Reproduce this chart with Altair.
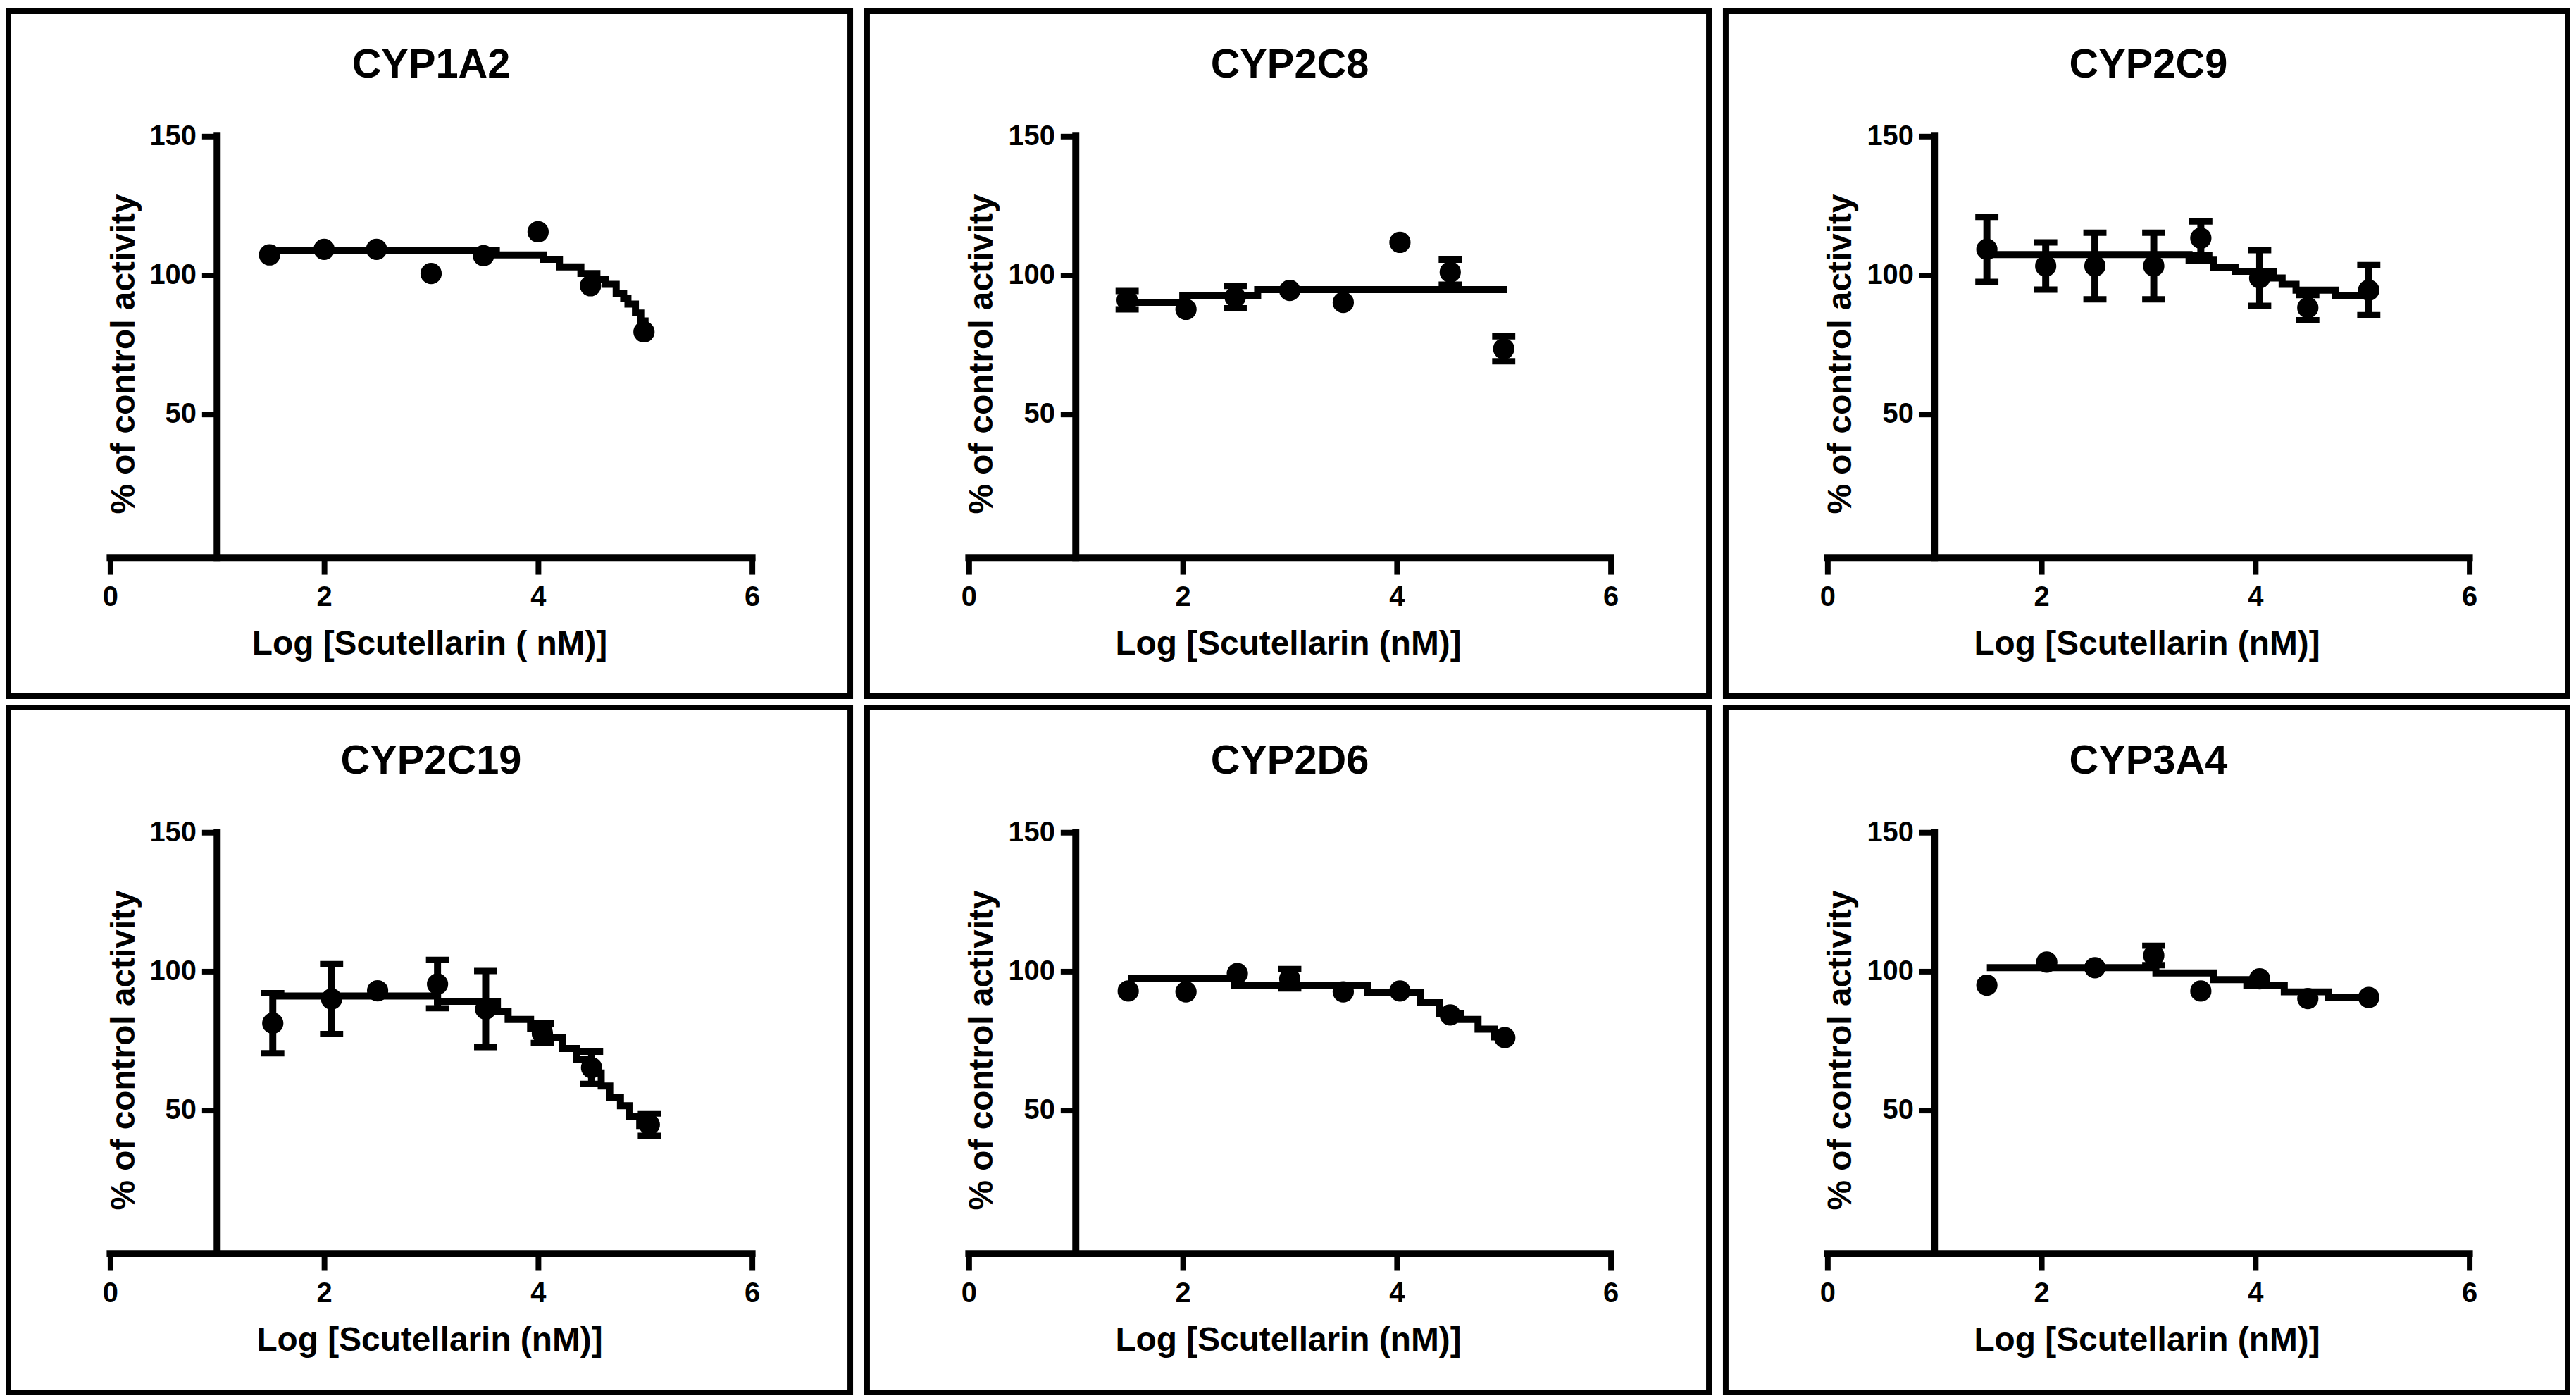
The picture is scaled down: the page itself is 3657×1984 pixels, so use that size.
import altair as alt
import pandas as pd

# ---------------- data ----------------
names = ["CYP1A2", "CYP2C8", "CYP2C9", "CYP2C19", "CYP2D6", "CYP3A4"]
x_titles = ["Log [Scutellarin ( nM)]", "Log [Scutellarin (nM)]", "Log [Scutellarin (nM)]",
            "Log [Scutellarin (nM)]", "Log [Scutellarin (nM)]", "Log [Scutellarin (nM)]"]
y_title = "% of control activity"

cyp1a2_x = [1.49, 2.0, 2.49, 3.0, 3.49, 4.0, 4.49, 4.99]
cyp1a2_y = [107.3, 109.3, 109.3, 100.6, 107.0, 115.6, 96.2, 79.6]
cyp1a2_err = [0, 0, 0, 0, 0, 0, 0, 0]
cyp1a2_fit_x = [1.5, 3.61, 4.05, 4.2, 4.4, 4.55, 4.63, 4.73, 4.8, 4.84, 4.91, 4.96, 5.0]
cyp1a2_fit_y = [108.8, 107.3, 105.7, 103.0, 100.6, 98.5, 96.7, 93.5, 91.5, 89.6, 86.4, 83.5, 81.7]

cyp2c8_x = [1.48, 2.03, 2.49, 3.0, 3.5, 4.03, 4.5, 5.0]
cyp2c8_y = [91.0, 87.7, 92.1, 94.5, 90.2, 111.8, 101.1, 73.5]
cyp2c8_err = [3.3, 0, 4.0, 0, 0, 0, 4.5, 4.5]
cyp2c8_fit_x = [1.48, 2.0, 2.7, 5.03]
cyp2c8_fit_y = [90.2, 92.6, 94.8, 94.8]

cyp2c9_x = [1.49, 2.04, 2.5, 3.05, 3.49, 4.04, 4.49, 5.06]
cyp2c9_y = [109.3, 103.3, 103.3, 103.3, 113.3, 99.0, 88.3, 94.6]
cyp2c9_err = [11.7, 8.5, 12.0, 12.0, 6.0, 10.0, 4.5, 9.0]
cyp2c9_fit_x = [1.5, 3.38, 3.61, 3.81, 4.17, 4.25, 4.38, 4.75, 5.04]
cyp2c9_fit_y = [107.4, 105.4, 102.7, 101.4, 99.0, 96.7, 94.6, 92.7, 92.7]

cyp2c19_x = [1.52, 2.07, 2.5, 3.06, 3.51, 4.04, 4.5, 5.04]
cyp2c19_y = [81.3, 90.0, 93.0, 95.4, 86.4, 77.7, 65.3, 44.8]
cyp2c19_err = [10.8, 12.6, 0, 8.7, 13.7, 3.5, 5.8, 4.0]
cyp2c19_fit_x = [1.5, 3.06, 3.62, 3.72, 3.93, 4.1, 4.23, 4.36, 4.49, 4.59, 4.67, 4.77, 4.85, 4.95, 5.05]
cyp2c19_fit_y = [91.1, 89.2, 85.6, 82.7, 79.3, 76.1, 72.2, 68.2, 63.4, 58.7, 54.7, 51.6, 47.6, 44.5, 44.5]

cyp2d6_x = [1.49, 2.03, 2.51, 3.0, 3.5, 4.03, 4.5, 5.01]
cyp2d6_y = [92.9, 92.6, 99.2, 97.3, 92.6, 92.9, 84.3, 76.1]
cyp2d6_err = [0, 0, 0, 3.5, 0, 0, 0, 0]
cyp2d6_fit_x = [1.49, 2.48, 3.73, 4.22, 4.4, 4.6, 4.76, 4.91, 5.01]
cyp2d6_fit_y = [97.3, 95.0, 92.3, 88.7, 84.7, 82.7, 79.2, 76.4, 76.4]

cyp3a4_x = [1.49, 2.05, 2.5, 3.05, 3.49, 4.04, 4.49, 5.06]
cyp3a4_y = [95.0, 103.3, 101.3, 105.7, 92.9, 97.3, 90.2, 90.6]
cyp3a4_err = [0, 0, 0, 3.5, 0, 0, 0, 0]
cyp3a4_fit_x = [1.49, 3.07, 3.61, 3.92, 4.27, 4.68, 5.07]
cyp3a4_fit_y = [101.3, 99.4, 97.0, 95.0, 92.6, 90.6, 90.6]

x_ticks = [0, 2, 4, 6]
y_ticks = [50, 100, 150]
x_axis_at = -1.6      # the x-axis line sits just under y = 0
y_axis_at = 1         # the y-axis line crosses at x = 1

# ---------------- layout / style ----------------
W, H = 1200, 976
X0_REL, X6_REL = 145, 1060      # pixel of x=0 and x=6 from panel left
Y0_REL, Y150_REL = 772, 178     # pixel of y=0 and y=150 from panel top
PX_X = (X6_REL - X0_REL) / 6.0
PX_Y = (Y0_REL - Y150_REL) / 150.0
X_DOMAIN = [-X0_REL / PX_X, (W - X0_REL) / PX_X]
Y_DOMAIN = [-(H - Y0_REL) / PX_Y, Y0_REL / PX_Y]
FONT = "Liberation Sans"
LW = 10


def x_enc(field, title):
    return alt.X(field, type="quantitative",
                 scale=alt.Scale(domain=X_DOMAIN, nice=False, zero=False),
                 axis=alt.Axis(values=x_ticks, format="d", domain=False, grid=False,
                               ticks=True, tickSize=24, tickWidth=8, tickColor="black",
                               labelFont=FONT, labelFontWeight="bold", labelFontSize=40,
                               labelColor="black", labelPadding=13, labelFlush=False,
                               title=title, titleFont=FONT, titleFontWeight="bold",
                               titleFontSize=48, titleColor="black", titlePadding=23,
                               offset=-(H - Y0_REL + x_axis_at * PX_Y)))


def y_enc(field):
    return alt.Y(field, type="quantitative",
                 scale=alt.Scale(domain=Y_DOMAIN, nice=False, zero=False),
                 axis=alt.Axis(values=y_ticks, format="d", domain=False, grid=False,
                               ticks=True, tickSize=22, tickWidth=8, tickColor="black",
                               labelFont=FONT, labelFontWeight="bold", labelFontSize=40,
                               labelColor="black", labelPadding=8, labelFlush=False,
                               title=y_title, titleFont=FONT, titleFontWeight="bold",
                               titleFontSize=48, titleColor="black", titlePadding=12,
                               offset=-(X0_REL + y_axis_at * PX_X)))


def panel(name, xt, xs, ys, errs, fx, fy):
    pts = pd.DataFrame({"x": xs, "y": ys, "err": errs})
    pts["lo"] = pts["y"] - pts["err"]
    pts["hi"] = pts["y"] + pts["err"]
    bars = pts[pts["err"] > 0]
    caps = pd.concat([
        pd.DataFrame({"x": bars["x"], "y": bars["lo"]}),
        pd.DataFrame({"x": bars["x"], "y": bars["hi"]}),
    ])
    fit = pd.DataFrame({"x": fx, "y": fy})
    axes_lines = pd.DataFrame({"x": [x_ticks[0], y_axis_at], "x2": [x_ticks[-1], y_axis_at],
                               "y": [x_axis_at, x_axis_at], "y2": [x_axis_at, y_ticks[-1]]})
    title_df = pd.DataFrame({"x": [3], "y": [175.5], "label": [name]})

    lines = alt.Chart(axes_lines).mark_rule(color="black", strokeWidth=LW, strokeCap="square").encode(
        x=x_enc("x", xt), x2="x2:Q", y=y_enc("y"), y2="y2:Q")
    fit_line = alt.Chart(fit).mark_line(color="black", strokeWidth=LW, interpolate="step-after").encode(
        x=x_enc("x", xt), y=y_enc("y"))
    err_rule = alt.Chart(bars).mark_rule(color="black", strokeWidth=LW).encode(
        x=x_enc("x", xt), y=y_enc("lo"), y2="hi:Q")
    err_cap = alt.Chart(caps).mark_tick(color="black", orient="horizontal", size=33,
                                        thickness=9, opacity=1).encode(
        x=x_enc("x", xt), y=y_enc("y"))
    dots = alt.Chart(pts).mark_circle(color="black", size=920, opacity=1).encode(
        x=x_enc("x", xt), y=y_enc("y"))
    title = alt.Chart(title_df).mark_text(font=FONT, fontWeight="bold", fontSize=58,
                                          color="black", align="center", baseline="middle").encode(
        x=x_enc("x", xt), y=y_enc("y"), text="label:N")
    return alt.layer(lines, fit_line, err_rule, err_cap, dots, title).properties(width=W, height=H)


series = [
    (cyp1a2_x, cyp1a2_y, cyp1a2_err, cyp1a2_fit_x, cyp1a2_fit_y),
    (cyp2c8_x, cyp2c8_y, cyp2c8_err, cyp2c8_fit_x, cyp2c8_fit_y),
    (cyp2c9_x, cyp2c9_y, cyp2c9_err, cyp2c9_fit_x, cyp2c9_fit_y),
    (cyp2c19_x, cyp2c19_y, cyp2c19_err, cyp2c19_fit_x, cyp2c19_fit_y),
    (cyp2d6_x, cyp2d6_y, cyp2d6_err, cyp2d6_fit_x, cyp2d6_fit_y),
    (cyp3a4_x, cyp3a4_y, cyp3a4_err, cyp3a4_fit_x, cyp3a4_fit_y),
]
panels = [panel(n, xt, *s) for n, xt, s in zip(names, x_titles, series)]

chart = alt.vconcat(
    alt.hconcat(*panels[:3], spacing=16),
    alt.hconcat(*panels[3:], spacing=16),
    spacing=8,
).properties(padding=0, background="white"
).configure_view(stroke="black", strokeWidth=8, fill="white")

chart.save("out.html", embed_options={"renderer": "svg", "actions": False})
